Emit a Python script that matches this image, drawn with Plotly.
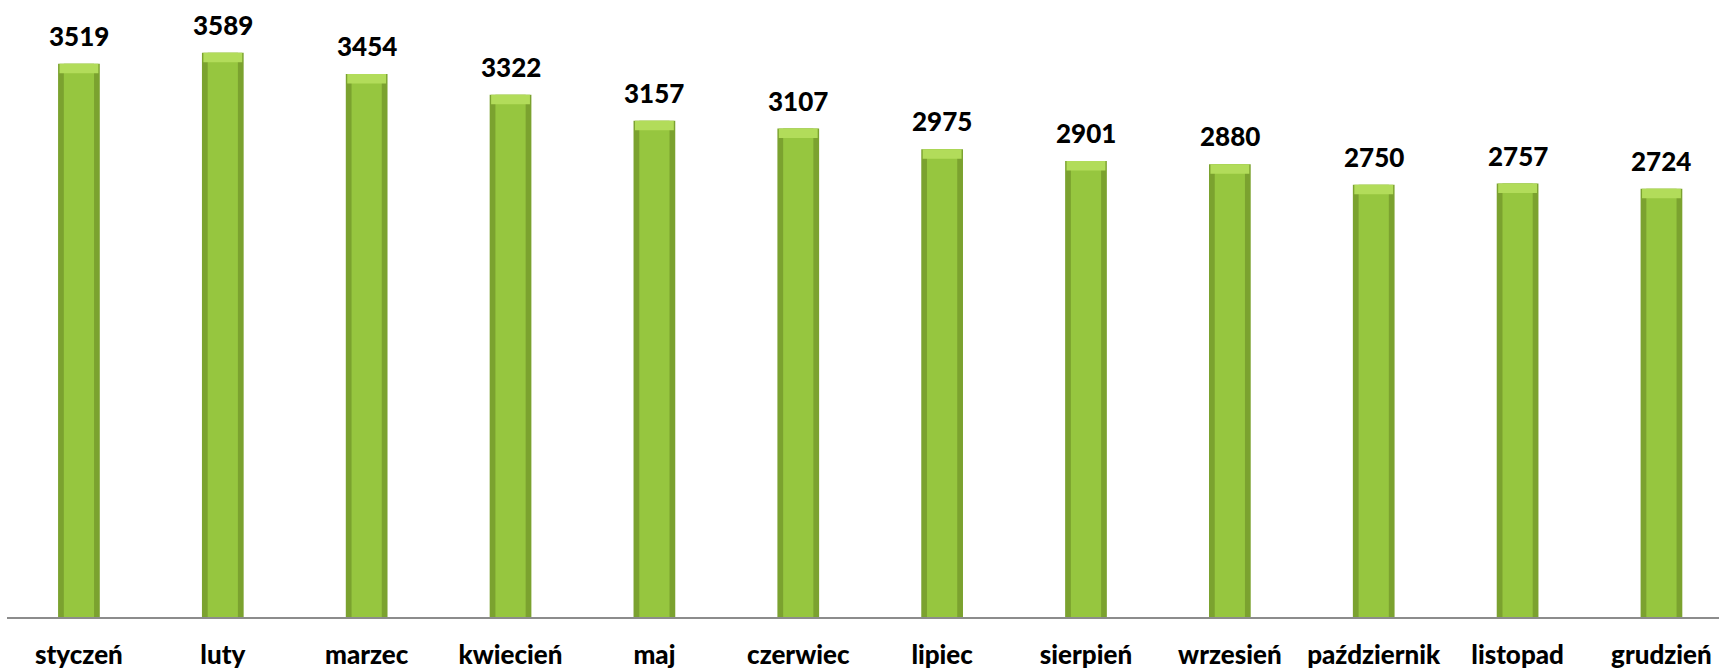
import plotly.graph_objects as go

months = ["styczeń", "luty", "marzec", "kwiecień", "maj", "czerwiec", "lipiec",
          "sierpień", "wrzesień", "październik", "listopad", "grudzień"]
values = [3519, 3589, 3454, 3322, 3157, 3107, 2975, 2901, 2880, 2750, 2757, 2724]

FONT = "Lato"
fig = go.Figure()

# outer darker body
fig.add_trace(go.Bar(x=months, y=values, width=0.29,
                     marker=dict(color="#7ba22f", line=dict(width=0)),
                     hoverinfo="skip"))
# inner lighter body
fig.add_trace(go.Bar(x=months, y=values, width=0.21,
                     marker=dict(color="#96c63f", line=dict(width=0)),
                     hoverinfo="skip"))
# top bevel highlight
cap = 60
fig.add_trace(go.Bar(x=months, y=[cap] * len(values), base=[v - cap for v in values],
                     width=0.27, marker=dict(color="#b2dc5a", line=dict(width=0)),
                     hoverinfo="skip"))

for m, v in zip(months, values):
    fig.add_annotation(x=m, y=v, text=str(v), showarrow=False,
                       yanchor="bottom", yshift=10,
                       font=dict(family=FONT, size=26, color="#000000", weight=900))

fig.update_layout(
    width=1719, height=669,
    margin=dict(l=7, r=0, t=0, b=52, autoexpand=False),
    paper_bgcolor="white", plot_bgcolor="white",
    barmode="overlay", showlegend=False,
    xaxis=dict(range=[-0.5, 11.4], showline=True, linecolor="#8c8c8c", linewidth=2,
               ticks="", showgrid=False, zeroline=False, automargin=False,
               tickfont=dict(family=FONT, size=26, color="#000000", weight=900),
               ticklabelstandoff=14),
    yaxis=dict(range=[0, 3925], visible=False, showgrid=False, zeroline=False,
               automargin=False),
)
fig.update_xaxes(tickvals=months, ticktext=months)
fig.write_html("out.html", config={"displayModeBar": False},
               post_script="document.body.style.margin='0';")
